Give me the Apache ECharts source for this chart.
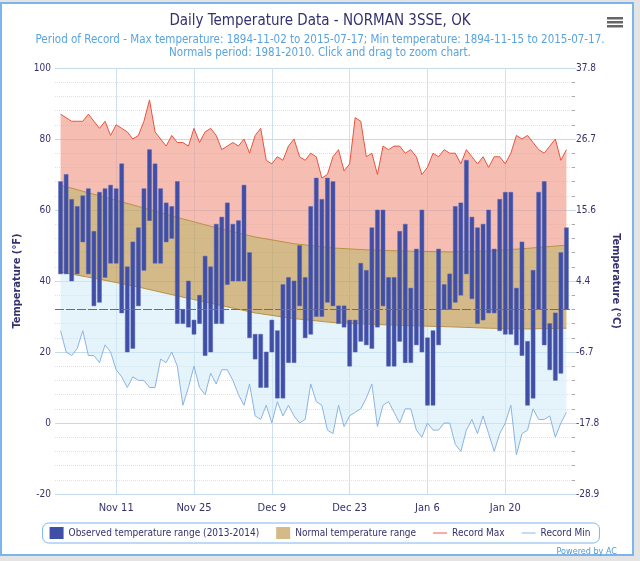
<!DOCTYPE html>
<html>
<head>
<meta charset="utf-8">
<script src="https://cdn.jsdelivr.net/npm/echarts@6/dist/echarts.min.js"></script>
<style>
html,body{margin:0;padding:0;background:#e4e4e4;width:640px;height:561px;overflow:hidden;}
#frame{position:absolute;left:0;top:2px;width:634px;height:554px;box-sizing:border-box;border:2px solid #7cb5ec;background:#fff;}
#c{position:absolute;left:0;top:0;width:640px;height:561px;}
</style>
</head>
<body>
<div id="frame"></div>
<div id="c"></div>
<script>
// Day index 0 = Nov 1 2013 ... 91 = Jan 31 2014
const tickDays = [10, 24, 38, 52, 66, 80];
const tickLabels = ['Nov 11', 'Nov 25', 'Dec 9', 'Dec 23', 'Jan 6', 'Jan 20'];

const obsHigh = [68,70,63,61,64,66,54,65,66,67,66,73,44,51,55,66,77,73,66,62,61,68,32,40,29,36,47,44,56,58,62,56,57,67,48,25,25,20,29,26,39,41,40,50,41,61,69,63,69,68,33,33,29,29,45,43,55,60,60,41,41,54,56,38,49,60,24,26,49,39,42,61,62,74,58,55,56,60,49,63,65,65,38,51,23,43,65,68,28,31,48,55];
const obsLow  = [42,42,40,42,51,42,33,34,41,45,45,31,20,21,33,43,57,45,45,51,52,28,28,27,25,28,19,20,28,28,39,40,40,40,24,18,10,10,20,7,7,17,17,33,24,25,30,30,34,33,28,27,16,20,23,22,21,27,33,16,16,23,17,17,22,20,5,5,22,32,32,34,36,42,35,28,29,31,31,26,25,25,22,19,5,7,32,22,15,12,14,32];
const recMax  = [87,86,85,85,85,87,85,83,85,81,84,83,82,80,81,85,91,82,80,78,81,79,79,78,83,79,82,83,81,77,78,79,78,80,76,81,83,74,73,75,74,78,80,75,74,76,75,69,70,75,77,71,73,86,85,75,76,70,78,77,78,78,76,77,75,70,72,76,75,77,76,76,73,77,75,73,75,72,75,75,73,76,81,80,81,79,77,76,78,80,74,77];
const recMin  = [26,20,19,21,26,19,19,17,22,20,15,13,10,13,12,12,10,10,18,17,20,16,5,10,16,10,8,14,11,15,15,12,8,5,11,2,1,5,0,6,2,5,2,0,1,11,6,5,-2,-3,5,-1,2,3,4,7,11,-1,5,6,3,0,4,4,-2,-4,0,-2,-2,0,0,-6,-8,-2,1,-3,2,-3,-8,-3,0,5,-9,-3,-2,4,1,1,2,-4,0,3];
const normHighPts = [[0,67.0],[7,64.0],[14,61.0],[21,57.9],[28,55.0],[35,52.4],[42,50.5],[49,49.3],[56,48.7],[63,48.4],[70,48.2],[77,48.4],[84,49.2],[91,50.1]];
const normLowPts  = [[0,42.5],[7,40.5],[14,38.3],[21,35.8],[28,33.4],[35,31.0],[42,29.4],[49,28.3],[56,27.8],[63,27.4],[70,27.1],[77,26.7],[84,26.5],[91,26.7]];
const freezing = 32;

const recMaxPts = recMax.map((v, i) => [i, v]);
const recMinPts = recMin.map((v, i) => [i, v]);
const obsData = obsHigh.map((h, i) => [i, obsLow[i], h]);

const TXT = '#35316d';
const FONT = '"DejaVu Sans Condensed", "Liberation Sans", sans-serif';
const LINE_ICON = 'path://M0 0H24V1.6H0Z';

function band(upper, lower) {
  return function (params, api) {
    const pts = upper.map(p => api.coord(p)).concat(lower.slice().reverse().map(p => api.coord(p)));
    return { type: 'polygon', shape: { points: pts }, style: { fill: api.visual('color') } };
  };
}

const chart = echarts.init(document.getElementById('c'), null, { renderer: 'canvas' });
chart.setOption({
  animation: false,
  backgroundColor: 'transparent',
  textStyle: { fontFamily: FONT },
  title: {
    text: 'Daily Temperature Data - NORMAN 3SSE, OK',
    subtext: 'Period of Record - Max temperature: 1894-11-02 to 2015-07-17; Min temperature: 1894-11-15 to 2015-07-17.\nNormals period: 1981-2010. Click and drag to zoom chart.',
    left: 'center', top: 9, itemGap: 5,
    textStyle: { fontFamily: FONT, fontSize: 15, fontWeight: 'normal', color: TXT },
    subtextStyle: { fontFamily: FONT, fontSize: 11.5, color: '#5aa3df', lineHeight: 13, align: 'center' }
  },
  legend: {
    left: 'center', bottom: 18,
    data: [
      { name: 'Observed temperature range (2013-2014)', icon: 'rect' },
      { name: 'Normal temperature range', icon: 'rect' },
      { name: 'Record Max', icon: LINE_ICON },
      { name: 'Record Min', icon: LINE_ICON }
    ],
    itemWidth: 14, itemHeight: 12, itemGap: 17, width: 600,
    padding: [4, 9, 4, 7], borderColor: '#7cb5ec', borderWidth: 1, borderRadius: 6,
    textStyle: { fontFamily: FONT, fontSize: 10, color: TXT }
  },
  grid: { left: 55, right: 68, top: 68, bottom: 67, containLabel: false },
  xAxis: {
    type: 'value', min: -1, max: 92,
    axisLine: { show: false },
    axisTick: { show: false, customValues: tickDays },
    axisLabel: { customValues: tickDays, color: TXT, fontSize: 11, margin: 9,
      formatter: v => tickLabels[tickDays.indexOf(v)] || '' },
    splitLine: { show: true, lineStyle: { color: '#cfe1f1', width: 1 } }
  },
  yAxis: [
    {
      type: 'value', min: -20, max: 100, interval: 20,
      name: 'Temperature (°F)', nameLocation: 'middle', nameGap: 23, nameRotate: 90,
      nameTextStyle: { fontFamily: FONT, fontSize: 11, fontWeight: 'bold', color: TXT },
      axisLine: { show: false }, axisTick: { show: false },
      axisLabel: { color: TXT, fontSize: 10, margin: 4 },
      splitLine: { lineStyle: { color: '#c4dbee', width: 1 } },
      minorTick: { show: false, splitNumber: 5 },
      minorSplitLine: { show: true, lineStyle: { color: '#e2e2e2', type: 'dotted', width: 1 } }
    },
    {
      type: 'value', min: -20, max: 100, interval: 20, position: 'right',
      name: 'Temperature (°C)', nameLocation: 'middle', nameGap: 28, nameRotate: -90,
      nameTextStyle: { fontFamily: FONT, fontSize: 11, fontWeight: 'bold', color: TXT },
      axisLine: { show: false },
      axisTick: { show: true, length: 4, lineStyle: { color: '#c4dbee' } },
      minorTick: { show: true, splitNumber: 5, length: 3, lineStyle: { color: '#aaaaaa' } },
      axisLabel: { color: TXT, fontSize: 10, margin: 4, formatter: v => ((v - 32) * 5 / 9).toFixed(1) },
      splitLine: { show: false }
    }
  ],
  series: [
    { name: 'recHiBand', type: 'custom', z: 1, silent: true, itemStyle: { color: 'rgba(240,150,130,0.62)' },
      data: [[0, 0]], renderItem: band(recMaxPts, normHighPts) },
    { name: 'Normal temperature range', type: 'custom', z: 1, silent: true, itemStyle: { color: 'rgba(196,160,90,0.72)' },
      data: [[0, 0]], renderItem: band(normHighPts, normLowPts) },
    { name: 'recLoBand', type: 'custom', z: 1, silent: true, itemStyle: { color: 'rgba(208,235,246,0.55)' },
      data: [[0, 0]], renderItem: band(normLowPts, recMinPts) },
    { name: 'normHigh', type: 'line', z: 2, data: normHighPts, symbol: 'none', silent: true,
      lineStyle: { color: '#b88f45', width: 1 } },
    { name: 'normLow', type: 'line', z: 2, data: normLowPts, symbol: 'none', silent: true,
      lineStyle: { color: '#b88f45', width: 1 },
      markLine: { symbol: 'none', silent: true, label: { show: false },
        lineStyle: { color: '#5f66c2', type: [9, 2], width: 1.2 }, data: [{ yAxis: freezing }] } },
    { name: 'Record Max', type: 'line', z: 3, data: recMaxPts, symbol: 'none',
      itemStyle: { color: '#e8533f' }, lineStyle: { color: '#e8533f', width: 1 } },
    { name: 'Record Min', type: 'line', z: 3, data: recMinPts, symbol: 'none',
      itemStyle: { color: '#8ab3e3' }, lineStyle: { color: '#8ab3e3', width: 1 } },
    { name: 'Observed temperature range (2013-2014)', type: 'custom', z: 4,
      itemStyle: { color: '#3f4ea6' },
      encode: { x: 0, y: [1, 2] },
      data: obsData,
      renderItem: function (params, api) {
        const i = api.value(0);
        const top = api.coord([i, api.value(2)]);
        const bot = api.coord([i, api.value(1)]);
        const w = 4;
        return { type: 'rect', shape: { x: top[0] - w / 2, y: top[1], width: w, height: bot[1] - top[1] },
          style: { fill: api.visual('color'), stroke: '#5a66b4', lineWidth: 0.5 } };
      } }
  ],
  graphic: [
    { type: 'rect', left: 607, top: 17, shape: { width: 16, height: 2.5 }, style: { fill: '#666' } },
    { type: 'rect', left: 607, top: 21, shape: { width: 16, height: 2.5 }, style: { fill: '#666' } },
    { type: 'rect', left: 607, top: 25, shape: { width: 16, height: 2.5 }, style: { fill: '#666' } },
    { type: 'text', right: 23, top: 547, style: { text: 'Powered by AC', fill: '#4d9ad8', font: '9px "DejaVu Sans Condensed", "Liberation Sans", sans-serif' } }
  ]
});
</script>
</body>
</html>
